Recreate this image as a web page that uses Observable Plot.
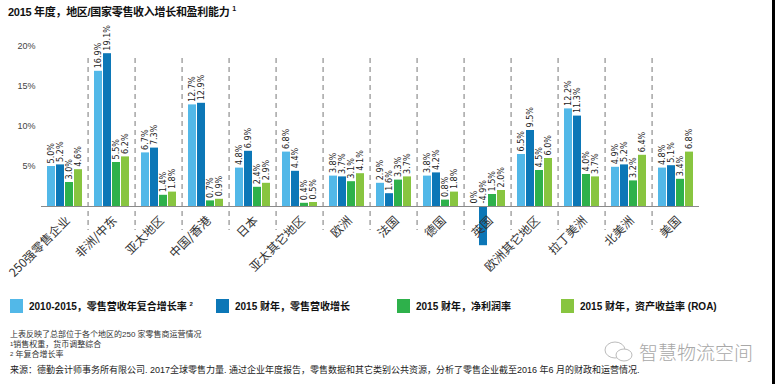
<!DOCTYPE html>
<html>
<head>
<meta charset="utf-8">
<script src="https://cdn.jsdelivr.net/npm/d3@7"></script>
<script src="https://cdn.jsdelivr.net/npm/@observablehq/plot@0.6"></script>
<style>
  html, body { margin: 0; padding: 0; background: #fff; }
  body { width: 775px; height: 384px; position: relative; overflow: hidden;
         font-family: "Liberation Sans", "Noto Sans CJK SC", sans-serif; color: #222; }
  #title { position: absolute; left: 8px; top: 3px; font-size: 11px; font-weight: bold; color: #111; white-space: nowrap; letter-spacing: -0.3px; }
  #chart { position: absolute; left: 0; top: 22px; }
  .leg { position: absolute; top: 298px; display: flex; align-items: center; font-size: 10px; font-weight: bold; white-space: nowrap; color: #111; }
  .leg .sw { width: 13px; height: 14px; margin-right: 6px; }
  .note { position: absolute; left: 10px; font-size: 8px; line-height: 9px; color: #333; white-space: nowrap; }
  #source { position: absolute; left: 10px; top: 363px; font-size: 9px; color: #222; white-space: nowrap; }
  #wm { position: absolute; left: 603px; top: 338px; display: flex; align-items: center; color: #a8a8a8; font-size: 19px; white-space: nowrap; font-family: "Noto Sans CJK SC", sans-serif; font-weight: 300; }
  #edge { position: absolute; right: 0; top: 0; width: 3px; height: 384px; background: #000; }
</style>
</head>
<body>
<div id="title">2015 年度，地区/国家零售收入增长和盈利能力 <sup style="font-size:7px">1</sup></div>
<div id="chart"></div>
<div id="legend"></div>
<div class="note" style="top:330px">上表反映了总部位于各个地区的250 家零售商运营情况</div>
<div class="note" style="top:340px"><span style="font-size:6px;vertical-align:top">1</span>销售权重，货币调整综合</div>
<div class="note" style="top:350px"><span style="font-size:6px;vertical-align:top">2</span> 年复合增长率</div>
<div id="source">来源：德勤会计师事务所有限公司. 2017全球零售力量. 通过企业年度报告，零售数据和其它类别公共资源，分析了零售企业截至2016 年6 月的财政和运营情况.</div>
<div id="wm"><svg width="32" height="24" viewBox="0 0 32 24" style="margin-right:4px"><ellipse cx="12" cy="10" rx="10" ry="8" fill="none" stroke="#bbb" stroke-width="1"/><ellipse cx="21" cy="15" rx="8" ry="6" fill="#fff" stroke="#bbb" stroke-width="1"/></svg>智慧物流空间</div>
<div id="edge"></div>
<script>
// ---- data ----
const categories = ["250强零售企业", "非洲/中东", "亚太地区", "中国/香港", "日本", "亚太其它地区", "欧洲", "法国", "德国", "英国", "欧洲其它地区", "拉丁美洲", "北美洲", "美国"];
const seriesNames = ["2010-2015，零售营收年复合增长率", "2015 财年，零售营收增长", "2015 财年，净利润率", "2015 财年，资产收益率 (ROA)"];
const cagr2010_2015 = [5.0, 16.9, 6.7, 12.7, 4.8, 6.8, 3.8, 2.9, 3.8, 0.0, 6.5, 12.2, 4.9, 4.8];
const revenueGrowth2015 = [5.2, 19.1, 7.3, 12.9, 6.9, 4.4, 3.7, 1.6, 4.2, -4.9, 9.5, 11.3, 5.2, 5.1];
const netMargin2015 = [3.0, 5.5, 1.4, 0.7, 2.4, 0.4, 3.1, 3.3, 0.8, 1.5, 4.5, 4.0, 3.2, 3.4];
const roa2015 = [4.6, 6.2, 1.8, 0.9, 2.9, 0.5, 4.1, 3.7, 1.8, 2.0, 6.0, 3.7, 6.4, 6.8];
const seriesColors = ["#52b8e8", "#0c77b7", "#2eb14b", "#88c540"];
const yTicks = [5, 10, 15, 20];

const seriesValues = [cagr2010_2015, revenueGrowth2015, netMargin2015, roa2015];
const rows = [];
categories.forEach((c, i) => {
  seriesNames.forEach((s, j) => rows.push({cat: c, s, v: seriesValues[j][i]}));
});
const fmt = v => v === 0 ? "0%" : v.toFixed(1) + "%";

// legend
const legendLeft = [10, 216, 397, 561];
const legend = document.getElementById("legend");
seriesNames.forEach((s, j) => {
  const d = document.createElement("div");
  d.className = "leg";
  d.style.left = legendLeft[j] + "px";
  d.innerHTML = `<div class="sw" style="background:${seriesColors[j]}"></div><span>${s}${j === 0 ? ' <sup style="font-size:6px">2</sup>' : ''}</span>`;
  legend.appendChild(d);
});

const padIn = 0.16, padOut = 0.6;
const W = 775, mL = 35, mR = 70;
const facetW = (W - mL - mR) / categories.length;

const chart = Plot.plot({
  width: W, height: 268,
  marginLeft: mL, marginRight: mR, marginTop: 16, marginBottom: 84,
  style: {fontFamily: '"Liberation Sans", "Noto Sans CJK SC", sans-serif', background: "transparent", color: "#333"},
  fx: {domain: categories, padding: 0, label: null},
  x: {domain: seriesNames, paddingInner: padIn, paddingOuter: padOut, axis: null},
  y: {domain: [0, 21], label: null},
  color: {domain: seriesNames, range: seriesColors},
  marks: [
    Plot.gridFx({ticks: categories.slice(1), dx: -facetW / 2, stroke: "#777", strokeOpacity: 1, strokeWidth: 1, strokeDasharray: "5,4", insetTop: 20, insetBottom: -24}),
    Plot.barY(rows, {fx: "cat", x: "s", y: "v", fill: "s"}),
    Plot.ruleY([0], {stroke: "#8a8a8a", strokeWidth: 1}),
    Plot.text(rows, {fx: "cat", x: "s", y: d => Math.max(d.v, 0), text: d => fmt(d.v), rotate: -90, textAnchor: "start", dy: -3, fontSize: 9, fill: "#222", fontFamily: '"Liberation Sans Narrow", "DejaVu Sans Condensed", "Liberation Sans", sans-serif'}),
    Plot.axisY({ticks: yTicks, tickFormat: d => d + "%", tickSize: 0, tickPadding: 6, fontSize: 9, label: null, fill: "#444"}),
    Plot.axisFx({anchor: "bottom", tickRotate: -45, tickSize: 0, tickPadding: 12, fontSize: 12, dx: 3, label: null, fill: "#333", fontFamily: '"Noto Sans CJK SC", sans-serif'})
  ]
});
document.getElementById("chart").appendChild(chart);
</script>
</body>
</html>
